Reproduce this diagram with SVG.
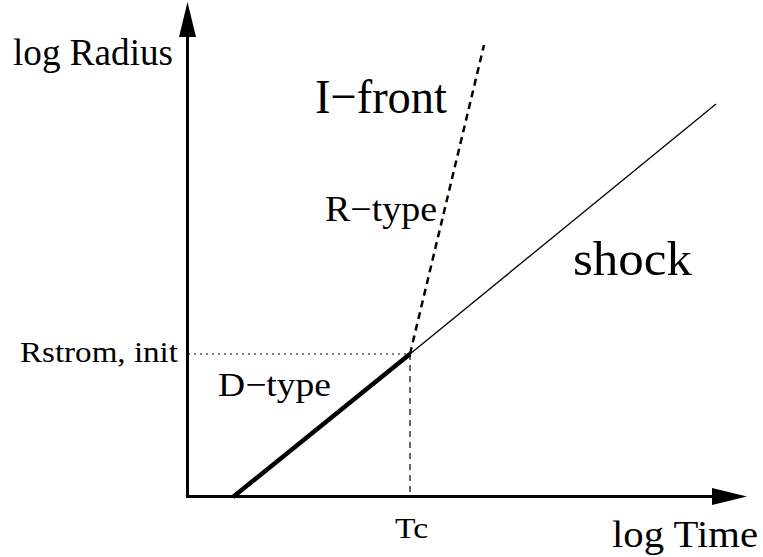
<svg xmlns="http://www.w3.org/2000/svg" width="763" height="557" viewBox="0 0 763 557">
<style>
text{font-family:"Liberation Serif","Times New Roman",serif;fill:#000}
.ax{stroke:#000;stroke-width:3;fill:none}
</style>
<rect width="763" height="557" fill="#fff"/>
<g id="axes">
<line class="ax" x1="187.5" y1="497" x2="187.5" y2="30"/>
<polygon points="187.5,2 179,37 196,37" fill="#000"/>
<line class="ax" x1="186" y1="496.5" x2="715" y2="496.5"/>
<polygon points="747,496.5 712,488 712,505" fill="#000"/>
</g>
<g id="connectors">
<line x1="233" y1="497" x2="410" y2="354" stroke="#000" stroke-width="4.5"/>
<line x1="410" y1="354" x2="716" y2="104" stroke="#000" stroke-width="1.3"/>
<line x1="410" y1="354" x2="484" y2="45" stroke="#000" stroke-width="2.5" stroke-dasharray="7,5"/>
<line x1="188" y1="354" x2="410" y2="354" stroke="#000" stroke-width="1.2" stroke-dasharray="2,4"/>
<line x1="410" y1="354" x2="410" y2="496" stroke="#000" stroke-width="1.2" stroke-dasharray="6,5"/>
</g>
<g id="labels">
<text x="13" y="65" font-size="38" textLength="160" lengthAdjust="spacingAndGlyphs">log Radius</text>
<text x="315" y="113" font-size="49" textLength="132" lengthAdjust="spacingAndGlyphs">I−front</text>
<text x="325" y="221" font-size="35" textLength="112" lengthAdjust="spacingAndGlyphs">R−type</text>
<text x="573" y="275" font-size="48" textLength="119" lengthAdjust="spacingAndGlyphs">shock</text>
<text x="20" y="362" font-size="29" textLength="158" lengthAdjust="spacingAndGlyphs">Rstrom, init</text>
<text x="218" y="396" font-size="34" textLength="113" lengthAdjust="spacingAndGlyphs">D−type</text>
<text x="395" y="538" font-size="30" textLength="33" lengthAdjust="spacingAndGlyphs">Tc</text>
<text x="612" y="547" font-size="38" textLength="146" lengthAdjust="spacingAndGlyphs">log Time</text>
</g>
</svg>
